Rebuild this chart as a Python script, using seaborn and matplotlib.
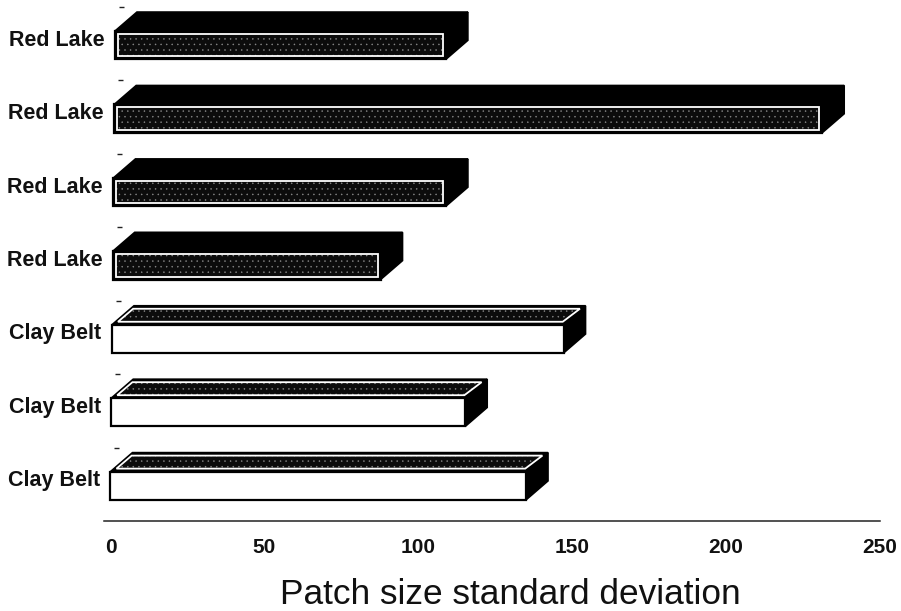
import pandas as pd
import matplotlib.pyplot as plt
import matplotlib.transforms as mtrans
from matplotlib.patches import Polygon
import seaborn as sns

# values
regions = ["Red Lake", "Red Lake", "Red Lake", "Red Lake", "Clay Belt", "Clay Belt", "Clay Belt"]
patch_sd = [107.5, 230, 108, 87, 146.7, 115, 135]
x_ticks = [0, 50, 100, 150, 200, 250]

W, H = 901, 611
AX_L, AX_R, AX_T, AX_B = 104, 880, 7, 521
DEPTH_X, DEPTH_Y = 22, 19      # 3d offset in pixels
SKEW = 0.75                    # the scan leans a bit, pixels per row

sns.set_theme(style="white")
plt.rcParams["font.family"] = ["Liberation Sans", "DejaVu Sans"]
plt.rcParams["hatch.linewidth"] = 0.3

df = pd.DataFrame({"row": [str(i) for i in range(len(regions))], "sd": patch_sd, "region": regions})

fig = plt.figure(figsize=(W / 100, H / 100), dpi=100, facecolor="white")
ax = fig.add_axes([AX_L / W, 1 - AX_B / H, (AX_R - AX_L) / W, (AX_B - AX_T) / H])

sns.barplot(data=df, x="sd", y="row", hue="region", dodge=False, width=0.385, orient="h",
            palette={"Red Lake": "black", "Clay Belt": "white"}, legend=False,
            edgecolor="black", linewidth=1.6, saturation=1, ax=ax)

px_x = (250 + 2.1) / (AX_R - AX_L)
px_y = len(regions) / (AX_B - AX_T)
ax.set_xlim(-2.1, 250)
ax.set_ylim(len(regions) - 0.5, -0.5)


def face(ax, pts, fc, ec="none", lw=0, hatch=None, z=3):
    p = Polygon(pts, closed=True, facecolor=fc, edgecolor=ec, linewidth=lw, hatch=hatch, zorder=z)
    ax.add_patch(p)
    return p


bars = sorted(ax.patches, key=lambda b: b.get_y())
for i, bar in enumerate(bars):
    shift = (len(bars) - 1 - i) * SKEW * px_x
    bar.set_x(shift)
    bar.set_y(bar.get_y() + 0.02)
    bar.set_zorder(4)
    x0, x1 = shift, shift + bar.get_width()
    yt, yb = bar.get_y(), bar.get_y() + bar.get_height()
    dx, dy = DEPTH_X * px_x, DEPTH_Y * px_y

    # top and right side of the block
    face(ax, [(x0, yt), (x0 + dx, yt - dy), (x1 + dx, yt - dy), (x1, yt)], "black", "black", 1.2)
    face(ax, [(x1, yt), (x1 + dx, yt - dy), (x1 + dx, yb - dy), (x1, yb)], "black", "black", 1.2)

    if regions[i] == "Red Lake":
        # speckled panel inset in the front face
        ix, iy = 3 * px_x, 3 * px_y
        pts = [(x0 + ix, yt + iy), (x1 - ix, yt + iy), (x1 - ix, yb - iy), (x0 + ix, yb - iy)]
    else:
        # clay belt has the speckled panel on top
        ix, iy = 4 * px_x, 3 * px_y
        pts = [(x0 + ix * 1.5, yt - iy), (x0 + dx - ix * 0.2, yt - dy + iy), (x1 + dx - ix * 1.4, yt - dy + iy),
               (x1 - ix * 0.2, yt - iy)]
    face(ax, pts, "#0c0c0c", "#8c8c8c", 0, hatch="...", z=5).set_edgecolor("#8c8c8c")
    face(ax, pts, "none", "white", 1.3, z=6)

    # small tick at the top of each row
    ax.plot([shift + 4 * px_x, shift + 9 * px_x], [i - 0.5, i - 0.5], color="#222222", lw=1.0,
            solid_capstyle="butt", clip_on=False)

ax.set_yticks(range(len(regions)))
ax.set_yticklabels(regions, fontsize=15.5, fontweight="bold", color="#111111")
ax.set_xticks(x_ticks)
ax.set_xticklabels([str(t) for t in x_ticks], fontsize=15, fontweight="bold", color="#111111")
ax.tick_params(axis="both", length=0)
ax.tick_params(axis="x", pad=12)
ax.tick_params(axis="y", pad=0)

# labels sit a bit above the bar rows and lean with the scan
for i, lab in enumerate(ax.get_yticklabels()):
    off = mtrans.ScaledTranslation(((len(regions) - 1 - i) * SKEW - 4) / 100, 6 / 100, fig.dpi_scale_trans)
    lab.set_transform(lab.get_transform() + off)

ax.set_xlabel("Patch size standard deviation", fontsize=25.4, color="#111111")
# centre of the axis title sits right of the axes centre
ax.xaxis.set_label_coords((510 - AX_L) / (AX_R - AX_L), (AX_B - 578) / (AX_B - AX_T))
ax.set_ylabel("")

sns.despine(ax=ax, left=True)
ax.spines["bottom"].set_linewidth(1.1)
ax.spines["bottom"].set_color("#222222")

fig.savefig("out.png", dpi=100, facecolor="white")
